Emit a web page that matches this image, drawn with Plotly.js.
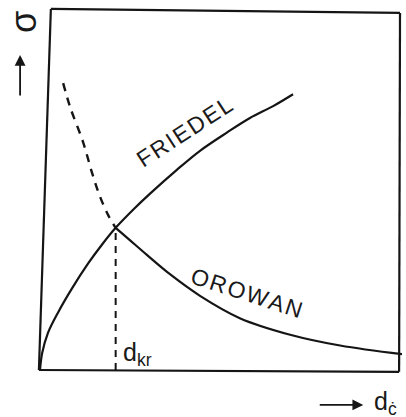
<!DOCTYPE html>
<html>
<head>
<meta charset="utf-8">
<script src="https://cdn.plot.ly/plotly-3.0.1.min.js"></script>
<style>
  html, body { margin: 0; padding: 0; background: #fff; }
  #chart { width: 406px; height: 417px; }
</style>
</head>
<body>
<div id="chart"></div>
<script>
// Friedel (particle cutting) strength vs. particle size
const friedelX = [0, 0.6, 2.2, 5.0, 8.8, 13.3, 17.1, 20.9, 26.0, 30.4, 37.8, 44.2, 51.7, 58.0, 64.4, 69.9];
const friedelY = [0, 4.7, 10.3, 16.0, 22.6, 29.6, 34.8, 39.5, 44.8, 49.0, 55.6, 60.9, 66.0, 70.0, 73.3, 76.6];

// Orowan (bypassing) strength vs. particle size
const orowanX = [20.9, 24.9, 29.6, 35.9, 44.2, 55.2, 69.1, 82.9, 100];
const orowanY = [39.5, 36.0, 31.9, 26.6, 20.6, 14.4, 9.8, 6.8, 4.4];

// Orowan branch continued below the critical size (not active)
const orowanLowX = [6.4, 8.3, 11.9, 14.4, 16.6, 18.8, 20.9];
const orowanLowY = [79.7, 73.1, 63.3, 54.7, 48.1, 43.1, 39.5];

// Critical particle size where both mechanisms cross
const dKr = 20.9;
const sigmaKr = 39.5;

const lineColor = '#151515';
const font = { family: 'Liberation Sans, Arial, sans-serif', color: '#1a1a1a' };

const traces = [
  { x: friedelX, y: friedelY, mode: 'lines', line: { color: lineColor, width: 2.2, shape: 'spline', smoothing: 1 }, hoverinfo: 'skip' },
  { x: orowanX, y: orowanY, mode: 'lines', line: { color: lineColor, width: 2.2, shape: 'spline', smoothing: 1 }, hoverinfo: 'skip' },
  { x: orowanLowX, y: orowanLowY, mode: 'lines', line: { color: lineColor, width: 2.4, dash: '8px,7px', shape: 'spline', smoothing: 1 }, hoverinfo: 'skip' },
  { x: [dKr, dKr], y: [0, sigmaKr], mode: 'lines', line: { color: lineColor, width: 2, dash: '7px,6px' }, hoverinfo: 'skip' }
];

// hand-drawn frame, slightly skewed on the left
const frame = [
  [-0.003, 0.0, 0.030, 1.003],
  [0.030, 1.003, 0.9945, 0.992],
  [0.9945, 0.992, 0.992, -0.005],
  [-0.003, 0.0, 0.992, -0.005]
].map(([x0, y0, x1, y1]) => ({
  type: 'line', xref: 'paper', yref: 'paper', x0, y0, x1, y1,
  line: { color: lineColor, width: 2.2 }
}));

const hair = '\u200A';
const spaced = s => s.split('').join(hair);

const label = (x, y, text, size, extra) => Object.assign({
  xref: 'paper', yref: 'paper', x, y, text, showarrow: false,
  xanchor: 'center', yanchor: 'middle', borderpad: 0,
  font: Object.assign({ size }, font)
}, extra || {});

const annotations = [
  label(0.398, 0.662, spaced('FRIEDEL'), 23, { textangle: -33 }),
  label(0.572, 0.215, spaced('OROWAN'), 23, { textangle: 18 }),
  label(0.226, 0.045, 'd<sub>kr</sub>', 25, { xanchor: 'left' }),
  label(-0.044, 0.967, 'σ', 36, { textangle: -90 }),
  { xref: 'paper', yref: 'paper', x: -0.055, y: 0.875, ax: 0, ay: 42, text: '', showarrow: true,
    arrowhead: 2, arrowsize: 1.2, arrowwidth: 1.8, arrowcolor: lineColor },
  { xref: 'paper', yref: 'paper', x: 0.893, y: -0.097, ax: -45, ay: 0, text: '', showarrow: true,
    arrowhead: 2, arrowsize: 1.2, arrowwidth: 1.8, arrowcolor: lineColor },
  label(0.988, -0.092, 'd<sub>ċ</sub>', 25, { xanchor: 'right' })
];

const layout = {
  width: 406, height: 417,
  margin: { l: 40, r: 4, t: 10, b: 47 },
  paper_bgcolor: '#fff', plot_bgcolor: '#fff',
  showlegend: false,
  xaxis: { range: [0, 100], showgrid: false, zeroline: false, showline: false, showticklabels: false, ticks: '', fixedrange: true },
  yaxis: { range: [0, 100], showgrid: false, zeroline: false, showline: false, showticklabels: false, ticks: '', fixedrange: true },
  shapes: frame,
  annotations: annotations
};

Plotly.newPlot('chart', traces, layout, { staticPlot: true, displayModeBar: false });
</script>
</body>
</html>
